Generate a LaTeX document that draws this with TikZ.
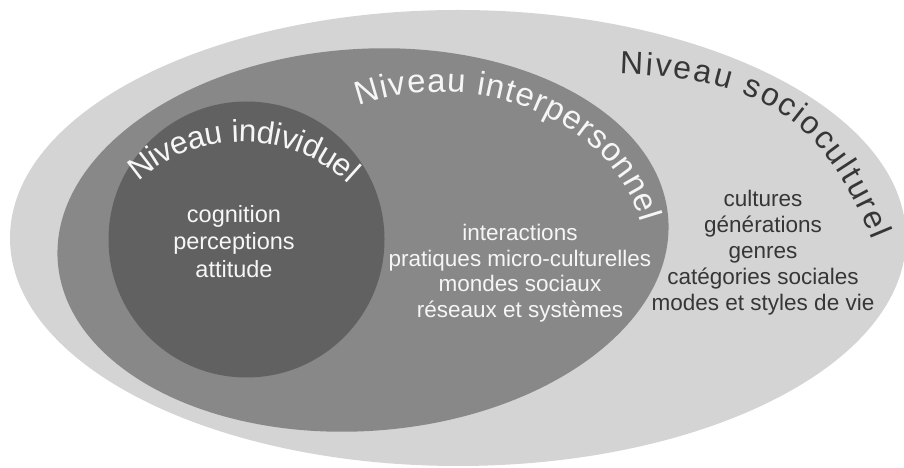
\documentclass[tikz,border=0pt]{standalone}
\usepackage{fontspec}
\setmainfont{Liberation Sans}
\usetikzlibrary{decorations.text}

\definecolor{outergray}{RGB}{212,212,212}
\definecolor{midgray}{RGB}{136,136,136}
\definecolor{innergray}{RGB}{97,97,97}
\definecolor{lighttext}{RGB}{246,246,246}
\definecolor{darktext}{RGB}{54,54,54}

\newcommand\coreitemfont{\fontsize{23.5}{27}\selectfont}
\newcommand\itemfont{\fontsize{22.5}{26}\selectfont}
\newcommand\corelevelfont{\fontsize{31.5}{35}\selectfont}
\newcommand\midlevelfont{\fontsize{33}{37}\selectfont}
\newcommand\outerlevelfont{\fontsize{32}{36}\selectfont}

\begin{document}
\begin{tikzpicture}[x=1pt,y=1pt,
  coreitem/.style={anchor=base, inner sep=0pt, font=\coreitemfont, text=lighttext},
  miditem/.style={anchor=base, inner sep=0pt, font=\itemfont, text=lighttext},
  outeritem/.style={anchor=base, inner sep=0pt, font=\itemfont, text=darktext},
  levellabel/.style={decorate, decoration={text along path, text align=fit to path, raise=-6pt}}
]
\useasboundingbox (0,0) rectangle (904,468);
\fill[white] (0,0) rectangle (904,468);

% nested levels
\coordinate (c0) at (458,230);
\coordinate (cm) at (363,228);
\coordinate (ci) at (246.5,228.5);
\fill[outergray] (c0) ellipse [x radius=448, y radius=228];
\fill[midgray, rotate around={4:(cm)}] (cm) ellipse [x radius=306, y radius=191];
\fill[innergray] (ci) circle [radius=138];

% curved level titles
\coordinate (c1) at (242,170);
\coordinate (c2) at (440,208);
\coordinate (s3) at (620,400);
\coordinate (e3) at (878,230);
\path[levellabel, decoration={text={|\corelevelfont|Niveau individuel}, text color=lighttext}]
  ([shift={(131.5:162)}]c1) arc[start angle=131.5, end angle=47, radius=162];
\path[levellabel, decoration={text={|\midlevelfont|Niveau interpersonnel}, text color=lighttext}]
  ([shift={(113:212 and 174)}]c2) arc[start angle=113, end angle=13, x radius=212, y radius=174];
\path[levellabel, decoration={text={|\outerlevelfont|Niveau socioculturel}, text color=darktext}]
  (s3) .. controls (770,395.5) and (829,349) .. (e3);

% individual level
\node[coreitem] (cog) at (234,245) {cognition};
\node[coreitem] (perc) at (234,218) {perceptions};
\node[coreitem] (att) at (234,190) {attitude};

% interpersonal level
\node[miditem] (inter) at (520,227) {interactions};
\node[miditem] (prat) at (520,201.5) {pratiques micro-culturelles};
\node[miditem] (monde) at (520,176) {mondes sociaux};
\node[miditem] (reseau) at (520,150.5) {réseaux et systèmes};

% sociocultural level
\node[outeritem] (cult) at (763,261) {cultures};
\node[outeritem] (gen) at (763,235) {générations};
\node[outeritem] (genre) at (763,209) {genres};
\node[outeritem] (cat) at (763,183) {catégories sociales};
\node[outeritem] (mode) at (763,157) {modes et styles de vie};
\end{tikzpicture}
\end{document}
